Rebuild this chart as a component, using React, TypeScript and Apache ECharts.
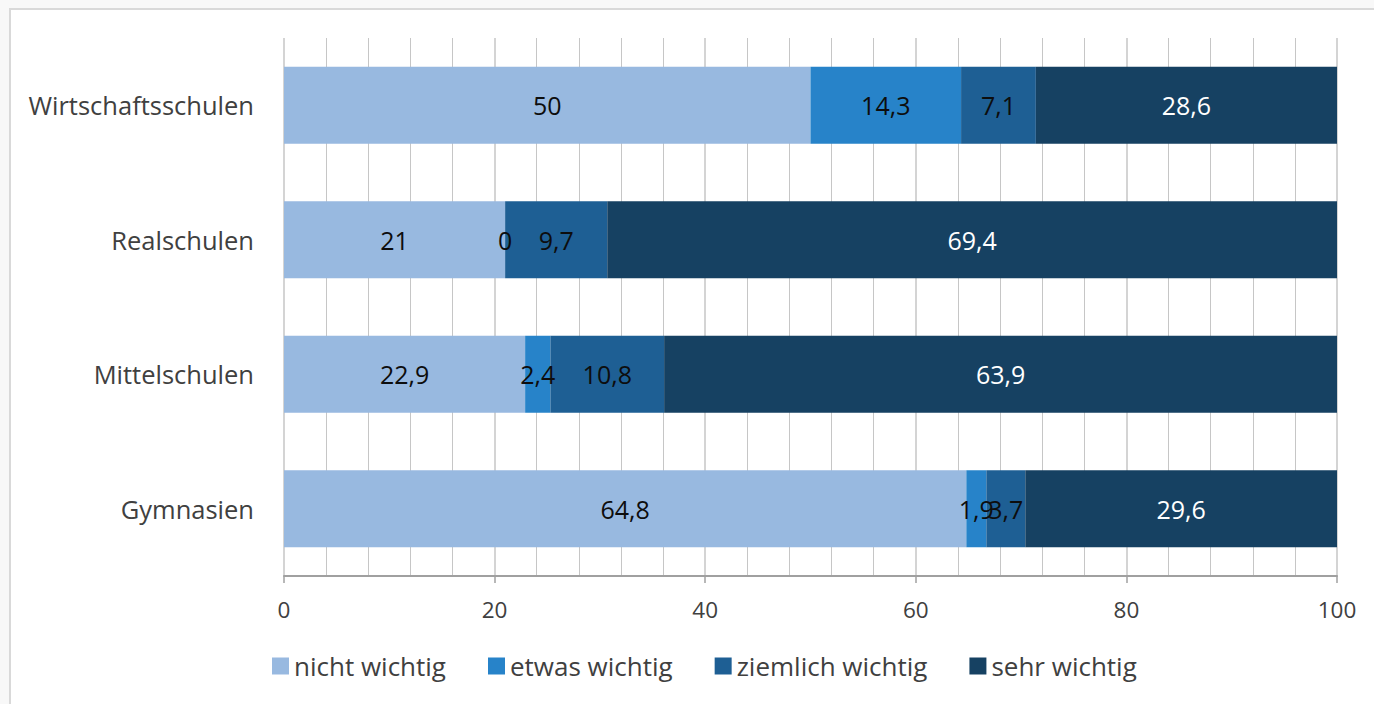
import React, { useEffect, useRef } from "react";
import * as echarts from "echarts";

const categories = ["Wirtschaftsschulen", "Realschulen", "Mittelschulen", "Gymnasien"];
const seriesNames = ["nicht wichtig", "etwas wichtig", "ziemlich wichtig", "sehr wichtig"];
const nichtWichtig = [50, 21, 22.9, 64.8];
const etwasWichtig = [14.3, 0, 2.4, 1.9];
const ziemlichWichtig = [7.1, 9.7, 10.8, 3.7];
const sehrWichtig = [28.6, 69.4, 63.9, 29.6];
const seriesColors = ["#98b9e0", "#2783c9", "#1e5f94", "#164162"];
const labelColors = ["#0d0d0d", "#0d0d0d", "#0d0d0d", "#ffffff"];
const xTicks = [0, 20, 40, 60, 80, 100];

const FONT = "'Open Sans', 'Noto Sans', sans-serif";

export default function App() {
  const ref = useRef<HTMLDivElement>(null);
  useEffect(() => {
    document.body.style.margin = "0";
    document.body.style.overflow = "hidden";
    const chart = echarts.init(ref.current!, null, { renderer: "svg" });
    const values = [nichtWichtig, etwasWichtig, ziemlichWichtig, sehrWichtig];
    chart.setOption({
      animation: false,
      backgroundColor: "#f8f8f8",
      textStyle: { fontFamily: FONT },
      graphic: [
        {
          type: "rect",
          z: -100,
          silent: true,
          shape: { x: 10, y: 9, width: 1500, height: 900 },
          style: { fill: "#ffffff", stroke: "#d9d9d9", lineWidth: 2 },
        },
      ],
      grid: { left: 284, right: 37, top: 38, bottom: 128, containLabel: false },
      legend: {
        data: seriesNames,
        left: 267,
        top: 648,
        itemWidth: 17,
        itemHeight: 17,
        itemGap: 42,
        icon: "rect",
        textStyle: { fontSize: 26, color: "#404040", fontFamily: FONT },
      },
      xAxis: {
        type: "value",
        min: xTicks[0],
        max: xTicks[xTicks.length - 1],
        interval: 20,
        axisLine: { show: true, lineStyle: { color: "#a0a0a0", width: 2 } },
        axisTick: { show: true, length: 7, lineStyle: { color: "#a0a0a0", width: 1.5 } },
        axisLabel: { fontSize: 22.5, color: "#404040", margin: 22, fontFamily: FONT },
        splitLine: { show: true, lineStyle: { color: "#d4d4d4", width: 2 } },
        minorTick: { show: false, splitNumber: 5 },
        minorSplitLine: { show: true, lineStyle: { color: "#c6c6c6", width: 1 } },
      },
      yAxis: {
        type: "category",
        data: categories,
        inverse: true,
        axisLine: { show: false },
        axisTick: { show: false },
        axisLabel: { fontSize: 25.5, color: "#404040", margin: 30, fontFamily: FONT },
      },
      series: seriesNames.map((name, i) => ({
        name,
        type: "bar",
        stack: "total",
        data: values[i],
        barWidth: 77,
        itemStyle: { color: seriesColors[i] },
        label: {
          show: true,
          position: "inside",
          color: labelColors[i],
          fontSize: 25,
          fontFamily: FONT,
          formatter: (p: any) => String(p.value).replace(".", ","),
        },
      })),
    });
    return () => chart.dispose();
  }, []);
  return <div ref={ref} style={{ width: 1374, height: 704 }} />;
}
